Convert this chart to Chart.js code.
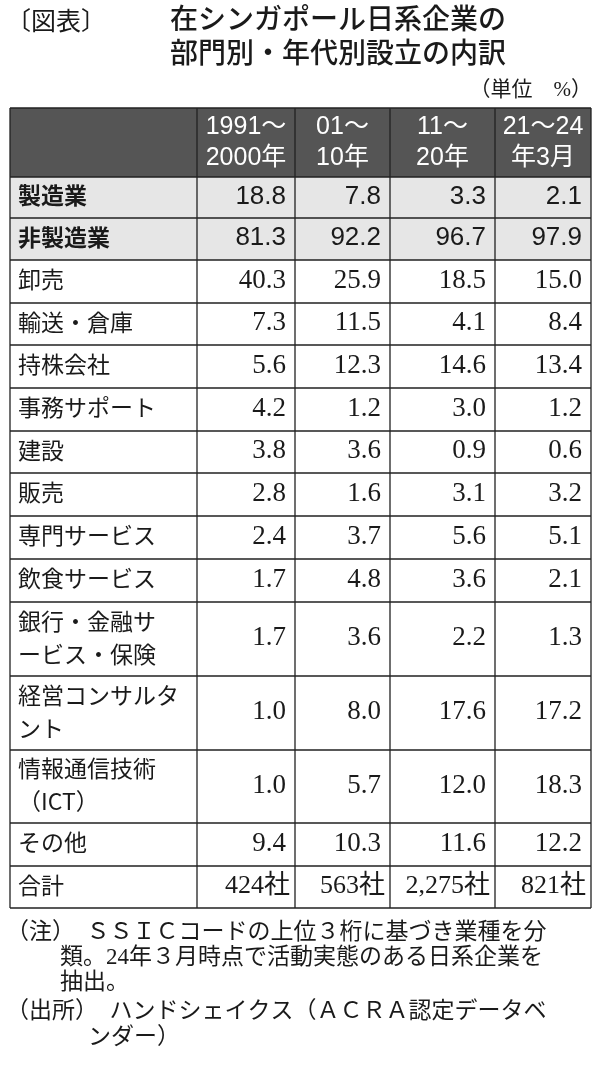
<!DOCTYPE html>
<html><head><meta charset="utf-8">
<script src="https://cdn.jsdelivr.net/npm/chart.js@4/dist/chart.umd.min.js"></script>
<style>html,body{margin:0;padding:0;background:#fff}#wrap{width:600px;height:1065px}</style>
</head><body><div id="wrap"><canvas id="c"></canvas></div>
<script>
'use strict';

var periods = ['1991～\n2000年', '01～\n10年', '11～\n20年', '21～24\n年3月'];
var sectors = ['製造業', '非製造業', '卸売', '輸送・倉庫', '持株会社', '事務サポート', '建設', '販売',
  '専門サービス', '飲食サービス', '銀行・金融サ\nービス・保険', '経営コンサルタ\nント', '情報通信技術\n（ICT）', 'その他'];
var p1991 = [18.8, 81.3, 40.3, 7.3, 5.6, 4.2, 3.8, 2.8, 2.4, 1.7, 1.7, 1.0, 1.0, 9.4];
var p2001 = [7.8, 92.2, 25.9, 11.5, 12.3, 1.2, 3.6, 1.6, 3.7, 4.8, 3.6, 8.0, 5.7, 10.3];
var p2011 = [3.3, 96.7, 18.5, 4.1, 14.6, 3.0, 0.9, 3.1, 5.6, 3.6, 2.2, 17.6, 12.0, 11.6];
var p2021 = [2.1, 97.9, 15.0, 8.4, 13.4, 1.2, 0.6, 3.2, 5.1, 2.1, 1.3, 17.2, 18.3, 12.2];
var totals = ['424社', '563社', '2,275社', '821社'];

// layout (page pixels)
var colEdges = [10, 197, 295, 390, 495, 591];
var rowEdges = [108, 177, 218, 260, 303, 345, 388, 431, 473, 516, 559, 602, 676, 750, 823, 866, 908];
var SANS = '"Noto Sans CJK JP", "Noto Sans", sans-serif';
var ARIAL = '"Liberation Sans", Arial, "Noto Sans CJK JP", sans-serif';
var SERIF = '"Liberation Serif", "DejaVu Serif", "Noto Sans CJK JP", serif';

var tablePlugin = {
  id: 'table',
  afterDraw: function(chart) {
    var ctx = chart.ctx, sx = chart.scales.x, sy = chart.scales.y;
    var X = function(v) { return sx.getPixelForValue(v); };
    var Y = function(v) { return sy.getPixelForValue(v); };
    ctx.save();

    function txt(s, x, y, font, align, color, maxW) {
      ctx.font = font; ctx.textAlign = align || 'left'; ctx.fillStyle = color || '#1a1a1a';
      ctx.textBaseline = 'middle';
      if (maxW) ctx.fillText(s, X(x), Y(y), maxW); else ctx.fillText(s, X(x), Y(y));
    }

    // titles
    txt('〔図表〕', 6, 20, '400 25px ' + SANS);
    txt('在シンガポール日系企業の', 170, 18, '500 28px ' + SANS, 'left', '#1a1a1a', 355);
    txt('部門別・年代別設立の内訳', 170, 52, '500 28px ' + SANS, 'left', '#1a1a1a', 355);
    txt('（単位　%）', 592, 90, '400 21px ' + SERIF, 'right');

    // backgrounds
    ctx.fillStyle = '#555555';
    ctx.fillRect(X(colEdges[0]), Y(rowEdges[0]), X(colEdges[5]) - X(colEdges[0]), Y(rowEdges[1]) - Y(rowEdges[0]));
    ctx.fillStyle = '#e6e6e6';
    ctx.fillRect(X(colEdges[0]), Y(rowEdges[1]), X(colEdges[5]) - X(colEdges[0]), Y(rowEdges[3]) - Y(rowEdges[1]));

    // header
    periods.forEach(function(p, i) {
      var cx = (colEdges[i + 1] + colEdges[i + 2]) / 2, lines = p.split('\n');
      txt(lines[0], cx, 127, '400 25px ' + ARIAL, 'center', '#fff', colEdges[i + 2] - colEdges[i + 1] - 6);
      txt(lines[1], cx, 158, '400 25px ' + ARIAL, 'center', '#fff', colEdges[i + 2] - colEdges[i + 1] - 6);
    });

    var cols = [p1991, p2001, p2011, p2021];
    sectors.forEach(function(s, r) {
      var top = rowEdges[r + 1], bot = rowEdges[r + 2], mid = (top + bot) / 2;
      var bold = r < 2;
      var lines = s.split('\n');
      var lf = (bold ? '700 ' : '400 ') + '23px ' + SANS;
      if (lines.length === 1) txt(lines[0], 18, mid - 2, lf);
      else { txt(lines[0], 18, mid - 18, lf); txt(lines[1], 18, mid + 15, lf); }
      cols.forEach(function(arr, c) {
        var f = bold ? '400 26px ' + ARIAL : '400 27px ' + SERIF;
        txt(arr[r].toFixed(1), colEdges[c + 2] - 9, mid - 1, f, 'right');
      });
    });
    var tr = rowEdges.length - 2, tmid = (rowEdges[tr] + rowEdges[tr + 1]) / 2;
    txt('合計', 18, tmid - 2, '400 23px ' + SANS);
    totals.forEach(function(t, c) {
      txt(t, colEdges[c + 2] - 5, tmid - 1, '400 26px ' + SERIF, 'right', '#1a1a1a', colEdges[c + 2] - colEdges[c + 1] - 8);
    });

    // grid lines
    ctx.strokeStyle = '#222'; ctx.lineWidth = 1.3;
    ctx.beginPath();
    rowEdges.forEach(function(y) { ctx.moveTo(X(colEdges[0]), Y(y)); ctx.lineTo(X(colEdges[5]), Y(y)); });
    colEdges.forEach(function(x) { ctx.moveTo(X(x), Y(rowEdges[0])); ctx.lineTo(X(x), Y(rowEdges[rowEdges.length - 1])); });
    ctx.stroke();

    // notes
    var nf = '400 23px ' + SERIF;
    txt('（注）　ＳＳＩＣコードの上位３桁に基づき業種を分', 6, 933, nf, 'left', '#1a1a1a', 584);
    txt('類。24年３月時点で活動実態のある日系企業を', 60, 958, nf, 'left', '#1a1a1a', 530);
    txt('抽出。', 60, 983, nf);
    txt('（出所）　ハンドシェイクス（ＡＣＲＡ認定データベ', 6, 1012, nf, 'left', '#1a1a1a', 584);
    txt('ンダー）', 88, 1038, nf);
    ctx.restore();
  }
};

new Chart(document.getElementById('c'), {
  type: 'scatter',
  data: { datasets: [{ data: [] }] },
  options: {
    responsive: true, maintainAspectRatio: false, animation: false,
    layout: { padding: 0 },
    plugins: { legend: { display: false }, tooltip: { enabled: false } },
    scales: {
      x: { type: 'linear', min: 0, max: 600, display: false },
      y: { type: 'linear', min: 0, max: 1065, reverse: true, display: false }
    }
  },
  plugins: [tablePlugin]
});
</script></body></html>
